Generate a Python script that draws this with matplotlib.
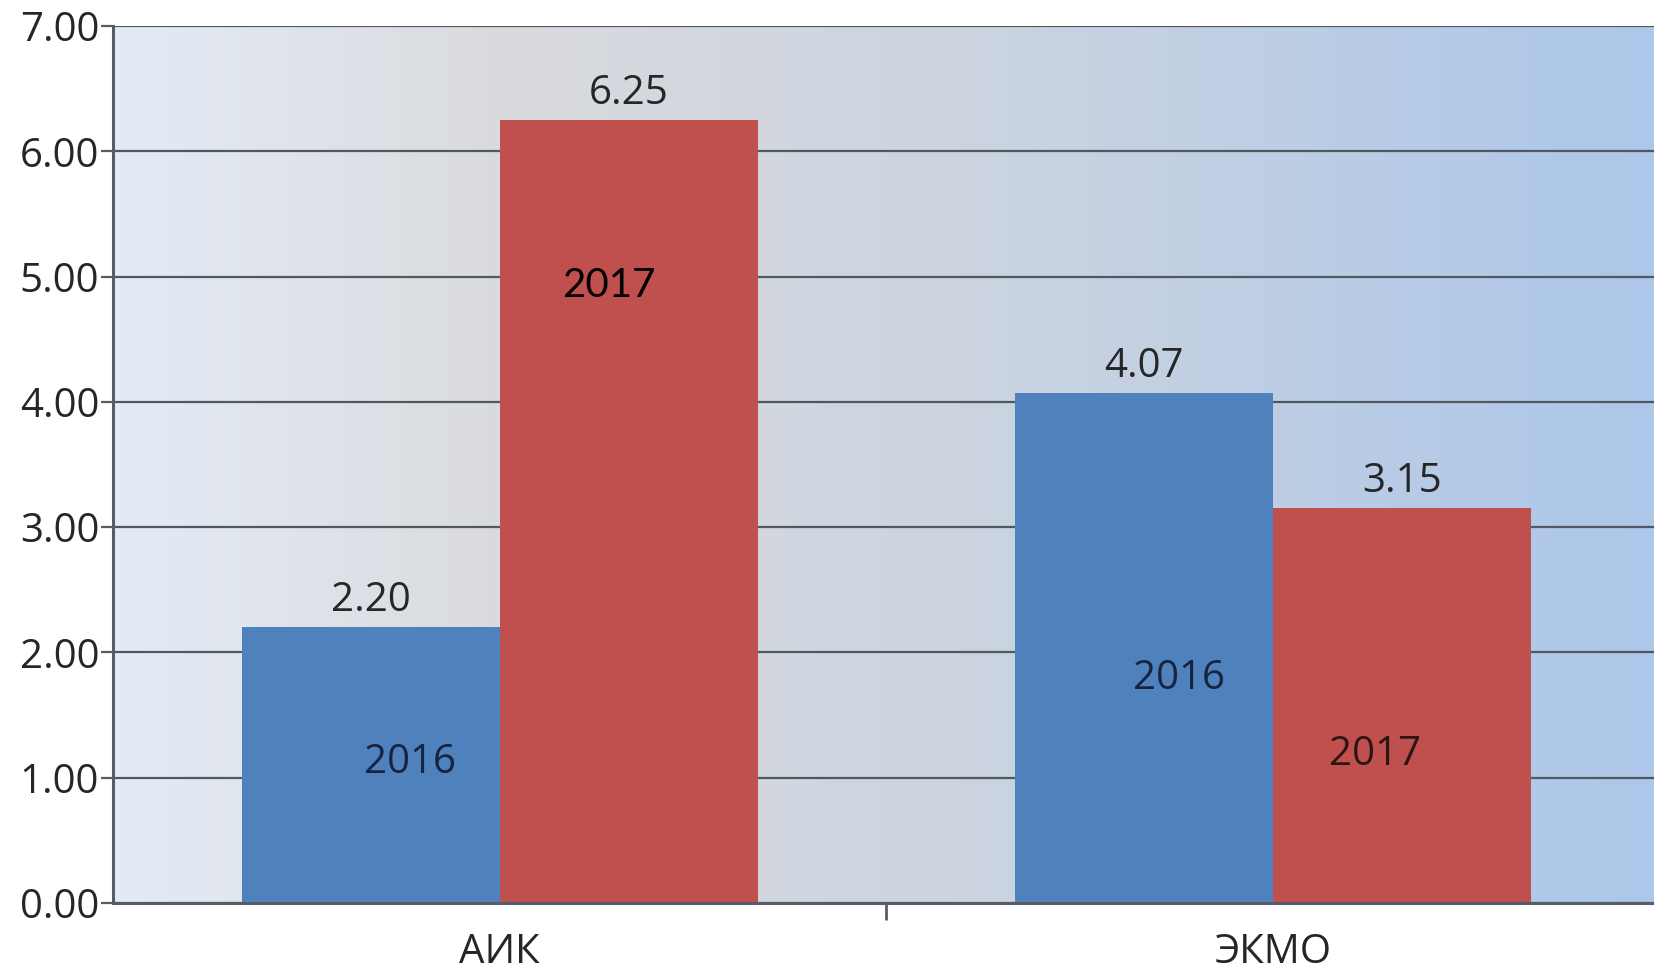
import numpy as np
import matplotlib
matplotlib.use("Agg")
import matplotlib.pyplot as plt
from matplotlib.colors import LinearSegmentedColormap

# datos del grafico
categorias = ["АИК", "ЭКМО"]
anios = ["2016", "2017"]
valores_2016 = [2.20, 4.07]
valores_2017 = [6.25, 3.15]
ticks_y = [0, 1, 2, 3, 4, 5, 6, 7]

plt.rcParams['font.family'] = ['Open Sans', 'DejaVu Sans']

fig = plt.figure(figsize=(16.54, 9.66), dpi=100)
ax = fig.add_axes([113 / 1654, 63 / 966, 1547 / 1654, 877 / 966])

# fondo con degradado horizontal
fondo = LinearSegmentedColormap.from_list(
    "fondo",
    [(0.0, (0.894, 0.922, 0.965)),
     (0.25, (0.852, 0.857, 0.870)),
     (0.55, (0.800, 0.831, 0.878)),
     (1.0, (0.675, 0.780, 0.918))])
ax.imshow(np.linspace(0, 1, 256).reshape(1, -1), cmap=fondo, aspect="auto",
          extent=(0, 1, 0, 1), transform=ax.transAxes, zorder=0)

x = np.arange(len(categorias))
ancho = 1 / 3
azul = "#4f81bd"
rojo = "#c0504d"
b1 = ax.bar(x - ancho / 2, valores_2016, ancho, color=azul, zorder=3)
b2 = ax.bar(x + ancho / 2, valores_2017, ancho, color=rojo, zorder=3)

# etiquetas de valor
for barras, vals in [(b1, valores_2016), (b2, valores_2017)]:
    for b, v in zip(barras, vals):
        ax.annotate(f"{v:.2f}", (b.get_x() + b.get_width() / 2, v),
                    xytext=(0, 19), textcoords="offset points",
                    ha="center", va="center", fontsize=29, color="#262626", zorder=4)

# etiquetas de serie dentro de las barras (desplazadas como en el original)
ax.text(b1[0].get_x() + b1[0].get_width() / 2 + 0.05, 1.12, anios[0],
        ha="center", va="center", fontsize=29, color="#16243f", zorder=4)
ax.text(b2[0].get_x() + b2[0].get_width() / 2 - 0.025, 4.93, anios[1],
        ha="center", va="center", fontsize=29, color="black", zorder=4,
        family=["Lato", "DejaVu Sans"])
ax.text(b1[1].get_x() + b1[1].get_width() / 2 + 0.045, 1.79, anios[0],
        ha="center", va="center", fontsize=29, color="#16243f", zorder=4)
ax.text(b2[1].get_x() + b2[1].get_width() / 2 - 0.035, 1.18, anios[1],
        ha="center", va="center", fontsize=29, color="#2b1614", zorder=4)

ax.set_xlim(-0.5, 1.5)
ax.set_ylim(0, 7)
ax.set_yticks(ticks_y)
ax.set_yticklabels([f"{t:.2f}" for t in ticks_y])
ax.yaxis.grid(True, color="#505860", linewidth=1.6, zorder=1)
ax.set_axisbelow(True)

ax.set_xticks(x)
ax.set_xticklabels(categorias)
ax.set_xticks([0.5], minor=True)
ax.tick_params(axis="x", which="major", length=0, pad=21, labelsize=29, labelcolor="#262626")
ax.tick_params(axis="x", which="minor", length=12, width=2, color="#565d66")
ax.tick_params(axis="y", length=9, width=1.6, color="#565d66", pad=1,
               labelsize=29, labelcolor="#262626")

for lado in ["top", "right"]:
    ax.spines[lado].set_visible(False)
for lado in ["left", "bottom"]:
    ax.spines[lado].set_color("#565d66")
    ax.spines[lado].set_linewidth(2.2)
    ax.spines[lado].set_zorder(5)

fig.savefig("out.png", dpi=100)
